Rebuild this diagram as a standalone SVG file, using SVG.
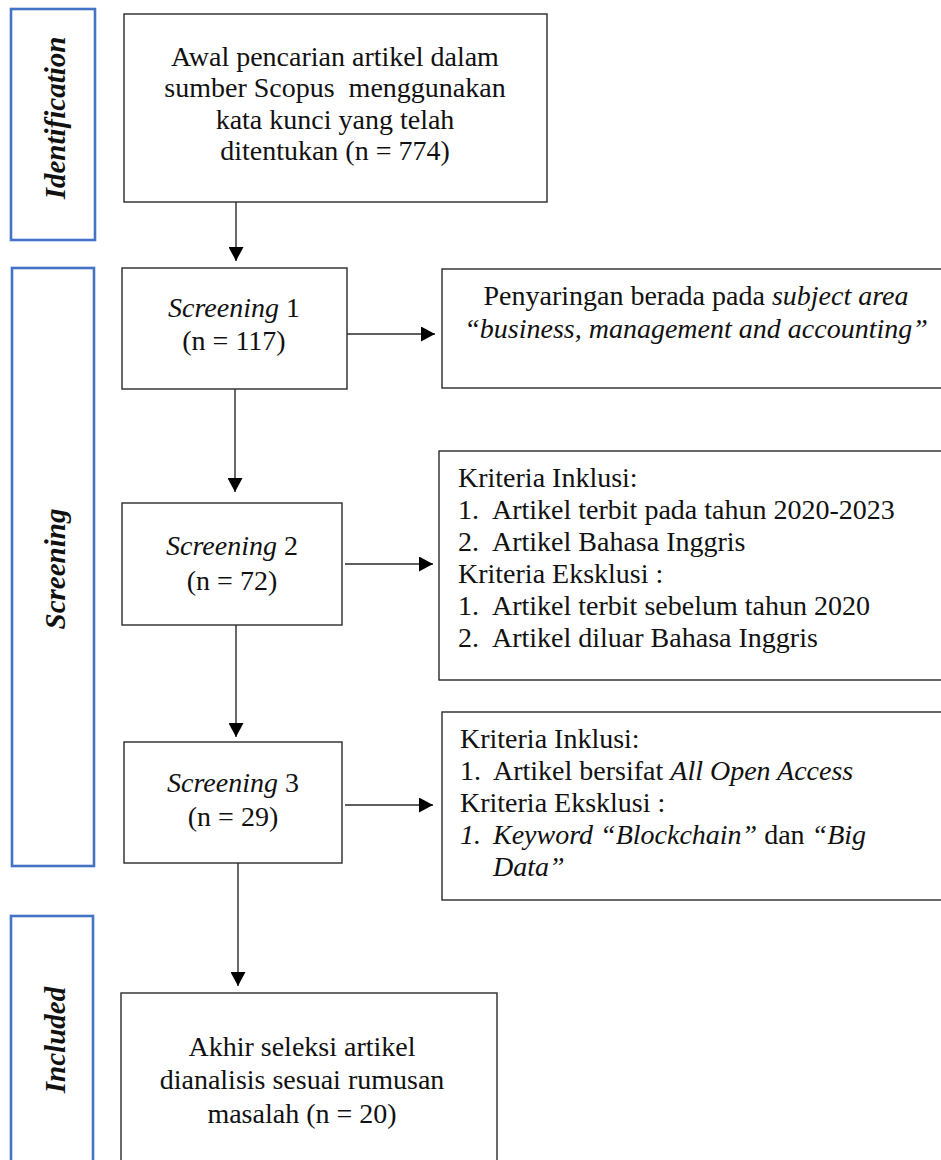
<svg xmlns="http://www.w3.org/2000/svg" width="941" height="1160" viewBox="0 0 941 1160">
<style>
text{font-family:"Liberation Serif","Times New Roman",serif;font-size:28px;fill:#111;white-space:pre}
.c{text-anchor:middle}
.i{font-style:italic}
.stage{fill:none;stroke:#4472C4;stroke-width:2.6}
.stl{font-weight:bold;font-style:italic;font-size:29px;text-anchor:middle}
.box{fill:#fff;stroke:#2a2a2a;stroke-width:1.4}
.ln{stroke:#2a2a2a;stroke-width:1.4;fill:none}
</style>
<defs>
<marker id="ah" viewBox="0 0 14 15" refX="14" refY="7.5" markerWidth="14" markerHeight="15" markerUnits="userSpaceOnUse" orient="auto">
<path d="M0,0 L14,7.5 L0,15 Z" fill="#000"/>
</marker>
</defs>
<rect width="941" height="1160" fill="#fff"/>

<g id="stage-identification">
<rect class="stage" x="11" y="9" width="84" height="231"/>
<text class="stl" transform="translate(65,118) rotate(-90)">Identification</text>
</g>
<g id="stage-screening">
<rect class="stage" x="12" y="268" width="82" height="598"/>
<text class="stl" transform="translate(65,569) rotate(-90)">Screening</text>
</g>
<g id="stage-included">
<rect class="stage" x="11" y="916" width="82" height="260"/>
<text class="stl" transform="translate(65,1040) rotate(-90)">Included</text>
</g>

<g id="connectors">
<line class="ln" x1="236" y1="202" x2="236" y2="261" marker-end="url(#ah)"/>
<line class="ln" x1="347" y1="334" x2="435" y2="334" marker-end="url(#ah)"/>
<line class="ln" x1="235" y1="389" x2="235" y2="492" marker-end="url(#ah)"/>
<line class="ln" x1="345" y1="564" x2="433" y2="564" marker-end="url(#ah)"/>
<line class="ln" x1="236" y1="625" x2="236" y2="737" marker-end="url(#ah)"/>
<line class="ln" x1="345" y1="805" x2="433" y2="805" marker-end="url(#ah)"/>
<line class="ln" x1="238" y1="863" x2="238" y2="986" marker-end="url(#ah)"/>
</g>

<g id="node-awal">
<rect class="box" x="124" y="14" width="423" height="188"/>
<text class="c" x="335" y="66">Awal pencarian artikel dalam</text>
<text class="c" x="335" y="97">sumber Scopus  menggunakan</text>
<text class="c" x="335" y="129">kata kunci yang telah</text>
<text class="c" x="335" y="160">ditentukan (n = 774)</text>
</g>

<g id="node-screening1">
<rect class="box" x="122" y="268" width="225" height="121"/>
<text class="c" x="234" y="317"><tspan class="i">Screening</tspan> 1</text>
<text class="c" x="234" y="350">(n = 117)</text>
</g>

<g id="node-subject">
<rect class="box" x="442" y="269" width="510" height="119"/>
<text class="c" x="696" y="305">Penyaringan berada pada <tspan class="i">subject area</tspan></text>
<text class="c i" x="696" y="338">“business, management and accounting”</text>
</g>

<g id="node-screening2">
<rect class="box" x="122" y="503" width="220" height="122"/>
<text class="c" x="232" y="555"><tspan class="i">Screening</tspan> 2</text>
<text class="c" x="232" y="590">(n = 72)</text>
</g>

<g id="node-kriteria2">
<rect class="box" x="439" y="451" width="512" height="229"/>
<text x="458" y="487">Kriteria Inklusi:</text>
<text x="458" y="519">1.</text><text x="492" y="519">Artikel terbit pada tahun 2020-2023</text>
<text x="458" y="551">2.</text><text x="492" y="551">Artikel Bahasa Inggris</text>
<text x="458" y="583">Kriteria Eksklusi :</text>
<text x="458" y="615">1.</text><text x="492" y="615">Artikel terbit sebelum tahun 2020</text>
<text x="458" y="647">2.</text><text x="492" y="647">Artikel diluar Bahasa Inggris</text>
</g>

<g id="node-screening3">
<rect class="box" x="124" y="742" width="218" height="121"/>
<text class="c" x="233" y="792"><tspan class="i">Screening</tspan> 3</text>
<text class="c" x="233" y="826">(n = 29)</text>
</g>

<g id="node-kriteria3">
<rect class="box" x="442" y="712" width="510" height="188"/>
<text x="460" y="748">Kriteria Inklusi:</text>
<text x="460" y="780">1.</text><text x="493" y="780">Artikel bersifat <tspan class="i">All Open Access</tspan></text>
<text x="460" y="812">Kriteria Eksklusi :</text>
<text class="i" x="460" y="844">1.</text><text x="493" y="844"><tspan class="i">Keyword “Blockchain”</tspan> dan <tspan class="i">“Big</tspan></text>
<text class="i" x="493" y="876">Data”</text>
</g>

<g id="node-akhir">
<rect class="box" x="121" y="993" width="376" height="190"/>
<text class="c" x="302" y="1056">Akhir seleksi artikel</text>
<text class="c" x="302" y="1089">dianalisis sesuai rumusan</text>
<text class="c" x="302" y="1123">masalah (n = 20)</text>
</g>
</svg>
